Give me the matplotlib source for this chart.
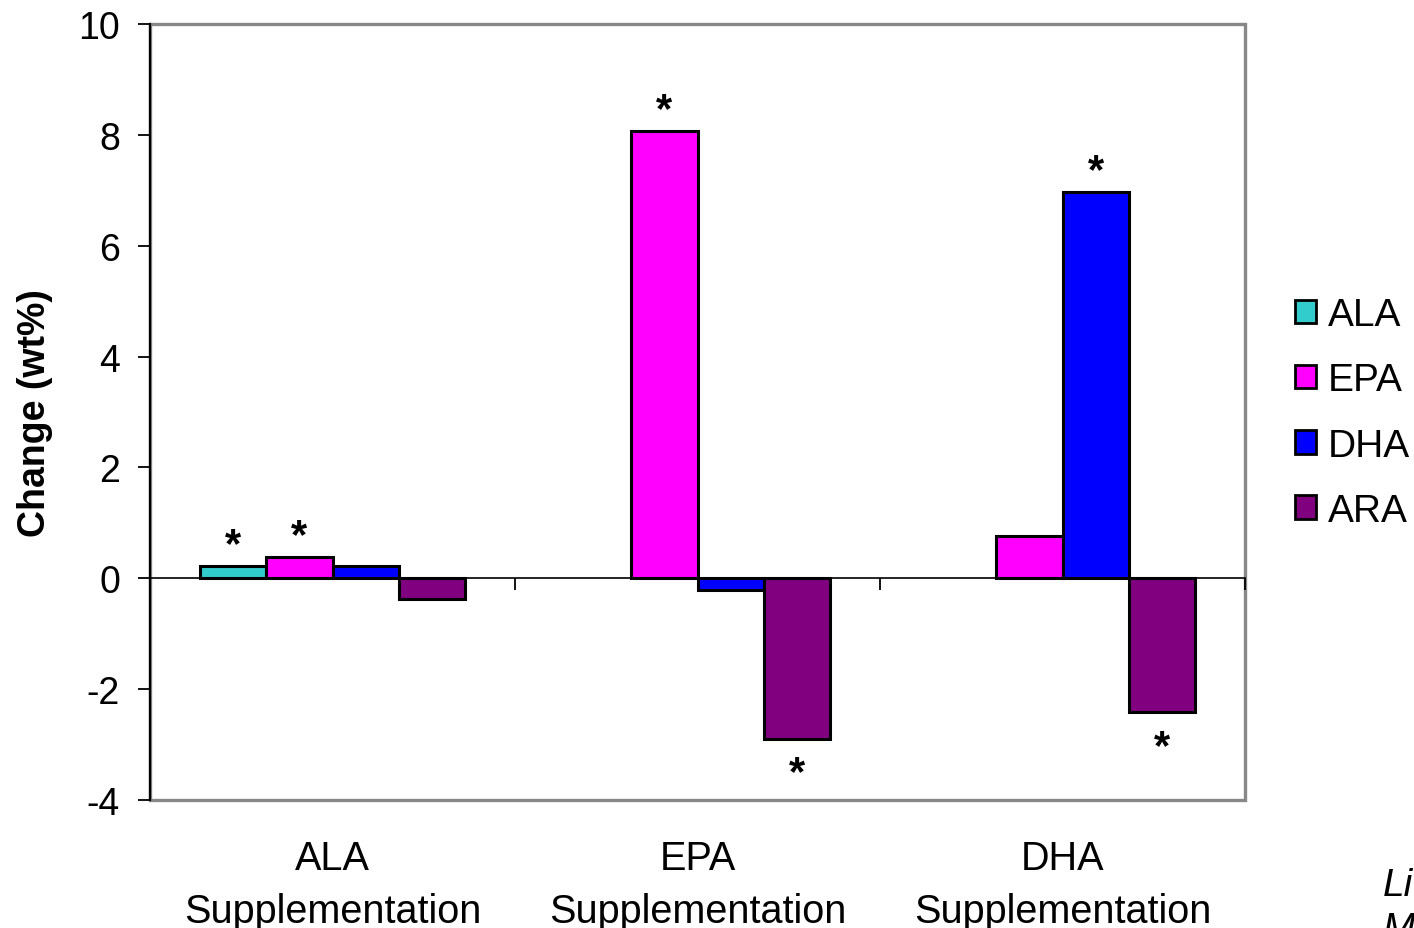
import numpy as np
import matplotlib
matplotlib.use("Agg")
from matplotlib import pyplot as plt
from matplotlib.patches import Rectangle, Patch
from matplotlib import transforms

plt.rcParams['font.family'] = ['Liberation Sans', 'DejaVu Sans']
plt.rcParams['axes.unicode_minus'] = False

# supplementation groups and fatty acid change values (wt%)
groups = ["ALA\nSupplementation", "EPA\nSupplementation", "DHA\nSupplementation"]
series = ["ALA", "EPA", "DHA", "ARA"]
colors = ["#33CCCC", "#FF00FF", "#0000FF", "#800080"]
ala = [0.22, np.nan, np.nan]
epa = [0.38, 8.07, 0.76]
dha = [0.22, -0.22, 6.97]
ara = [-0.38, -2.90, -2.42]
values = [ala, epa, dha, ara]

# significant changes: (group index, series index)
stars = [(0, 0), (0, 1), (1, 1), (1, 3), (2, 2), (2, 3)]

yticks = [-4, -2, 0, 2, 4, 6, 8, 10]

fig = plt.figure(figsize=(14.14, 9.29), dpi=100)
ax = fig.add_axes([150/1414, 1-801/929, 1095/1414, 776/929])

x = np.arange(len(groups))
w = 0.182
for i, (name, vals) in enumerate(zip(series, values)):
    ax.bar(x + (i - 1.5)*w, vals, w, color=colors[i], edgecolor='black',
           linewidth=2.2, label=name, zorder=3)

for g, s in stars:
    v = values[s][g]
    off = 0.38 if v > 0 else -0.62
    ax.text(x[g] + (s - 1.5)*w, v + off, "*", ha='center', va='center',
            fontsize=30, fontweight='bold', zorder=4)

ax.set_xlim(-0.5, 2.5)
ax.set_ylim(-4, 10)
ax.set_yticks(yticks)
ax.tick_params(axis='y', direction='out', length=8.6, width=1.3, pad=13,
               labelsize=27)

# zero line with category boundary ticks
for sp in ['top', 'right']:
    ax.spines[sp].set_visible(False)
ax.spines['bottom'].set_position(('data', 0))
ax.spines['bottom'].set_linewidth(1.2)
ax.spines['bottom'].set_zorder(3.5)
ax.set_xticks(x[:-1] + 0.5)
ax.set_xticks([2.5], minor=True)
ax.tick_params(axis='x', which='both', direction='out', length=8.6,
               width=1.3, labelbottom=False)
ax.spines['left'].set_linewidth(1.6)
ax.spines['left'].set_zorder(5)

# gray plot-area border
ax.add_patch(Rectangle((0, 0), 1, 1, transform=ax.transAxes, fill=False,
                       edgecolor='#888888', linewidth=2.4, zorder=1,
                       clip_on=False))

trans = transforms.blended_transform_factory(ax.transData, ax.transAxes)
for xi, g in zip(x, groups):
    ax.text(xi, -0.05, g, transform=trans, ha='center', va='top',
            fontsize=28.5, linespacing=1.5)

ax.set_ylabel("Change (wt%)", fontsize=27, fontweight='bold', labelpad=18)

handles = [Patch(facecolor=c, edgecolor='black', linewidth=2.0) for c in colors]
fig.legend(handles, series, loc='center left',
           bbox_to_anchor=(1260/1414, 1-414/929), frameon=False,
           fontsize=28, handlelength=0.55, handleheight=0.55,
           handletextpad=0.3, labelspacing=0.75)

fig.text(1383/1414, -11/929, "Li\nM", fontsize=28, style='italic',
         ha='left', va='baseline', linespacing=1.3)

fig.savefig("out.png", dpi=100)
